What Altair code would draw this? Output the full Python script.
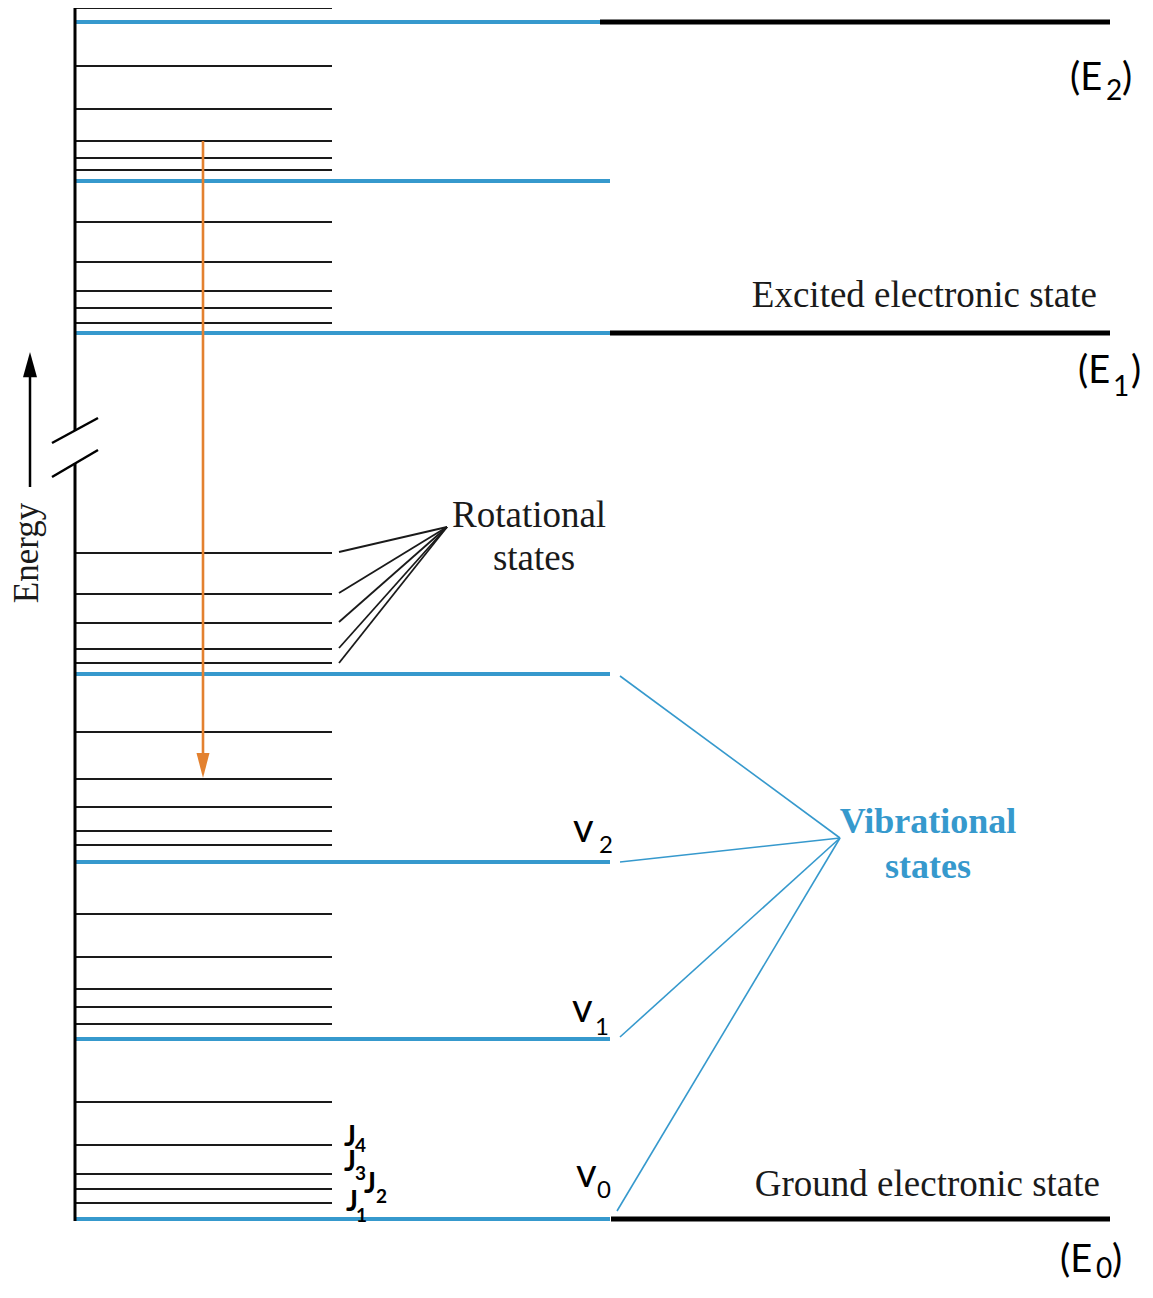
import altair as alt
import pandas as pd

# ---------------- data (diagram units: rows measured downward from the top) ----
electronic_names = ["E2", "E1", "E0"]
electronic_levels = [22, 333, 1219]
electronic_start = [600, 610, 611]
electronic_end = 1110

vibrational_levels = [22, 181, 333, 674, 862, 1039, 1219]
vib_start, vib_end = 75, 610

rotational_levels = [8, 66, 109, 141, 158, 170, 222, 262, 291, 308, 323,
                     553, 594, 623, 649, 663, 732, 779, 807, 831, 845,
                     914, 957, 989, 1007, 1024, 1102, 1145, 1174, 1189, 1203]
rot_start, rot_end = 75, 332

# energy axis (with break)
axis_x = 75
axis_segments = [(8, 431), (463, 1221)]
break_marks = [(52, 443, 98, 418), (52, 477, 98, 450)]
energy_arrow = dict(x=30, tail=487, tip=352)

# emission transition
transition = dict(x=203, start=141, end=778)

# pointer lines
rot_pointer_from_y = [552, 593, 622, 648, 663]
rot_pointer_from_x = 339
rot_pointer_to = (447, 527)
vib_pointer_from = [(620, 676), (620, 862), (620, 1037), (617, 1211)]
vib_pointer_to = (840, 838)

BLUE = "#3699cd"
ORANGE = "#e3812f"
INK = "#1a1a1a"

# ---------------- scales ----------------
XS = alt.Scale(domain=[8, 1145], nice=False, zero=False)
YS = alt.Scale(domain=[8, 1283], nice=False, zero=False, reverse=True)


def X(f="x"):
    return alt.X(f"{f}:Q", scale=XS, axis=None)


def Y(f="y"):
    return alt.Y(f"{f}:Q", scale=YS, axis=None)


# ---------------- layers ----------------
rot_df = pd.DataFrame({"y": rotational_levels, "x": rot_start, "x2": rot_end})
rot = alt.Chart(rot_df).mark_rule(color=INK, strokeWidth=2).encode(
    x=X(), x2="x2:Q", y=Y())

vib_df = pd.DataFrame({"y": vibrational_levels, "x": vib_start, "x2": vib_end})
vib = alt.Chart(vib_df).mark_rule(color=BLUE, strokeWidth=3.8).encode(
    x=X(), x2="x2:Q", y=Y())

el_df = pd.DataFrame({"name": electronic_names, "y": electronic_levels,
                      "x": electronic_start, "x2": electronic_end})
el = alt.Chart(el_df).mark_rule(color="#000000", strokeWidth=5).encode(
    x=X(), x2="x2:Q", y=Y())

ax_df = pd.DataFrame({"x": [axis_x] * len(axis_segments),
                      "y": [s[0] for s in axis_segments],
                      "y2": [s[1] for s in axis_segments]})
ax = alt.Chart(ax_df).mark_rule(color="#000000", strokeWidth=3).encode(
    x=X(), y=Y(), y2="y2:Q")

br_df = pd.DataFrame(break_marks, columns=["x", "y", "x2", "y2"])
br = alt.Chart(br_df).mark_rule(color="#000000", strokeWidth=2.5).encode(
    x=X(), y=Y(), x2="x2:Q", y2="y2:Q")

ea_df = pd.DataFrame({"x": [energy_arrow["x"]], "y": [energy_arrow["tail"]],
                      "y2": [energy_arrow["tip"] + 20]})
ea = alt.Chart(ea_df).mark_rule(color="#000000", strokeWidth=2.5).encode(
    x=X(), y=Y(), y2="y2:Q")
eah_df = pd.DataFrame({"x": [energy_arrow["x"]], "y": [energy_arrow["tip"]]})
eah = alt.Chart(eah_df).mark_point(
    shape="M0,0L-1,3.6L1,3.6Z", size=196, filled=True, opacity=1,
    color="#000000", strokeWidth=0).encode(x=X(), y=Y())

tr_df = pd.DataFrame({"x": [transition["x"]], "y": [transition["start"]],
                      "y2": [transition["end"] - 20]})
tr = alt.Chart(tr_df).mark_rule(color=ORANGE, strokeWidth=2.6).encode(
    x=X(), y=Y(), y2="y2:Q")
trh_df = pd.DataFrame({"x": [transition["x"]], "y": [transition["end"]]})
trh = alt.Chart(trh_df).mark_point(
    shape="M0,0L-1,-3.85L1,-3.85Z", size=169, filled=True, opacity=1,
    color=ORANGE, strokeWidth=0).encode(x=X(), y=Y())

rp_df = pd.DataFrame({"x": rot_pointer_from_x, "y": rot_pointer_from_y,
                      "x2": rot_pointer_to[0], "y2": rot_pointer_to[1]})
rp = alt.Chart(rp_df).mark_rule(color=INK, strokeWidth=1.8).encode(
    x=X(), y=Y(), x2="x2:Q", y2="y2:Q")

vp_df = pd.DataFrame({"x": [p[0] for p in vib_pointer_from],
                      "y": [p[1] for p in vib_pointer_from],
                      "x2": vib_pointer_to[0], "y2": vib_pointer_to[1]})
vp = alt.Chart(vp_df).mark_rule(color=BLUE, strokeWidth=1.6).encode(
    x=X(), y=Y(), x2="x2:Q", y2="y2:Q")


def texts(rows, **kw):
    df = pd.DataFrame(rows, columns=["text", "x", "y"])
    base = dict(baseline="alphabetic")
    base.update(kw)
    return alt.Chart(df).mark_text(**base).encode(x=X(), y=Y(), text="text:N")


SERIF = "Liberation Serif"
SANS = "Lato"

serif_right = texts([("Excited electronic state", 1097, 307),
                     ("Ground electronic state", 1100, 1196)],
                    font=SERIF, fontSize=37, color=INK, align="right")
serif_left = texts([("Rotational", 452, 527)],
                   font=SERIF, fontSize=37, color=INK, align="left")
serif_center = texts([("states", 534, 570)],
                     font=SERIF, fontSize=37, color=INK, align="center")
energy_lbl = texts([("Energy", 38, 553)],
                   font=SERIF, fontSize=35, color=INK, align="center", angle=270)
vib_lbl = texts([("Vibrational", 928, 833), ("states", 928, 878)],
                font=SERIF, fontSize=36, fontWeight="bold", color=BLUE,
                align="center")

v_main = texts([("v", 573, 842), ("v", 572, 1022), ("v", 576, 1187)],
               font=SANS, fontSize=40, color="#000000", align="left")
v_sub = texts([("2", 599, 853), ("1", 595, 1035), ("0", 597, 1198)],
              font=SANS, fontSize=24, color="#000000", align="left")

e_main = texts([("(E", 1070, 90), (")", 1122, 90),
                ("(E", 1078, 383), (")", 1131, 383),
                ("(E", 1060, 1272), (")", 1112, 1272)],
               font=SANS, fontSize=38, color="#000000", align="left")
e_sub = texts([("2", 1106, 100), ("1", 1113, 396), ("0", 1096, 1278)],
              font=SANS, fontSize=28, color="#000000", align="left")

j_main = texts([("J", 344, 1146), ("J", 344, 1171), ("J", 364, 1193),
                ("J", 346, 1211)],
               font=SANS, fontSize=28, fontWeight="bold", color="#000000",
               align="left")
j_sub = texts([("4", 355, 1152), ("3", 355, 1180), ("2", 376, 1203),
               ("1", 356, 1222)],
              font=SANS, fontSize=19, fontWeight="bold", color="#000000",
              align="left")

chart = alt.layer(
    rot, vib, el, ax, br, ea, eah, tr, trh, rp, vp,
    serif_right, serif_left, serif_center, energy_lbl, vib_lbl,
    v_main, v_sub, e_main, e_sub, j_main, j_sub,
).properties(
    width=1137, height=1275, padding=0, autosize="none",
    background="#ffffff",
).configure_view(stroke=None)

chart.save("out.html", embed_options={"renderer": "svg", "actions": False})
